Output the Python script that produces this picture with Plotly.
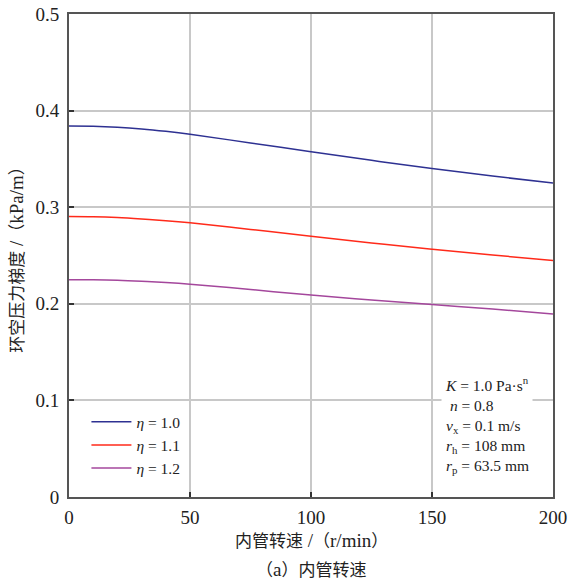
import plotly.graph_objects as go

speed = [0, 10, 20, 30, 40, 50, 75, 100, 125, 150, 175, 200]
eta_10 = [0.384, 0.3838, 0.3828, 0.381, 0.3785, 0.3755, 0.3665, 0.3575, 0.3485, 0.340, 0.3322, 0.3250]
eta_11 = [0.2905, 0.2902, 0.2893, 0.2878, 0.286, 0.2838, 0.277, 0.270, 0.263, 0.2565, 0.2505, 0.2448]
eta_12 = [0.2250, 0.2248, 0.2243, 0.2233, 0.222, 0.2203, 0.2148, 0.2090, 0.2040, 0.1993, 0.1945, 0.1895]
series_names = ["<i>η</i> = 1.0", "<i>η</i> = 1.1", "<i>η</i> = 1.2"]
colors = ["#2e3192", "#ff2a1a", "#a4479c"]
x_ticks = [0, 50, 100, 150, 200]
y_ticks = [0, 0.1, 0.2, 0.3, 0.4, 0.5]
y_tick_text = ["0", "0.1", "0.2", "0.3", "0.4", "0.5"]

FONT = "Liberation Serif, Noto Sans CJK SC, serif"
TXT = "#222222"


def big(s):
    return f"<span style='font-size:19px'>{s}</span>"


x_title = "内管转速" + big(" /") + "（" + big("r/min") + "）"
y_title = "环空压力梯度" + big(" /") + "（" + big("kPa/m") + "）"
sub_title = "（" + big("a") + "）内管转速"

fig = go.Figure()
for name, ys, c in zip(series_names, [eta_10, eta_11, eta_12], colors):
    fig.add_trace(go.Scatter(x=speed, y=ys, mode="lines", name=name,
                             line=dict(color=c, width=1.5, shape="spline")))

axis_common = dict(showline=True, linecolor="#555555", linewidth=2, mirror=True,
                   showgrid=True, gridcolor="#c8c8c8", gridwidth=1.5,
                   ticks="inside", ticklen=5, tickcolor="#333333", tickwidth=1.5,
                   zeroline=False, automargin=False,
                   tickfont=dict(family=FONT, size=19, color=TXT))

fig.update_xaxes(range=[0, 200], tickvals=x_ticks, ticklabelstandoff=2, **axis_common)
fig.update_yaxes(range=[0, 0.5], tickvals=y_ticks, ticktext=y_tick_text,
                 ticklabelstandoff=4, **axis_common)

fig.add_annotation(xref="paper", yref="paper", x=0.5, y=-0.091, xanchor="center", yanchor="middle",
                   text=x_title, showarrow=False, font=dict(family=FONT, size=17, color=TXT))
fig.add_annotation(xref="paper", yref="paper", x=-0.109, y=0.5, xanchor="center", yanchor="middle",
                   text=y_title, textangle=-90, showarrow=False,
                   font=dict(family=FONT, size=17, color=TXT))
fig.add_annotation(xref="paper", yref="paper", x=0.5, y=-0.151, xanchor="center", yanchor="middle",
                   text=sub_title, showarrow=False,
                   font=dict(family=FONT, size=17, color=TXT))

fig.add_annotation(xref="paper", yref="paper", x=0.769, y=0.262, xanchor="left", yanchor="top",
                   text=("<i>K</i> = 1.0 Pa·s<sup>n</sup><br> <i>n</i> = 0.8<br><i>v</i><sub>x</sub> = 0.1 m/s"
                         "<br><i>r</i><sub>h</sub> = 108 mm<br><i>r</i><sub>p</sub> = 63.5 mm"),
                   showarrow=False, align="left", bgcolor="white", borderpad=3,
                   font=dict(family=FONT, size=15.5, color=TXT))

fig.update_layout(
    width=568, height=583,
    margin=dict(l=69, r=15, t=14, b=86),
    plot_bgcolor="white", paper_bgcolor="white",
    font=dict(family=FONT, color=TXT),
    legend=dict(x=0.036, y=0.19, xanchor="left", yanchor="top", bgcolor="rgba(255,255,255,0)",
                font=dict(family=FONT, size=15.5), tracegroupgap=0, itemwidth=40),
    showlegend=True,
)

fig.write_html("out.html", config={"displayModeBar": False},
               post_script="document.body.style.margin='0';")
